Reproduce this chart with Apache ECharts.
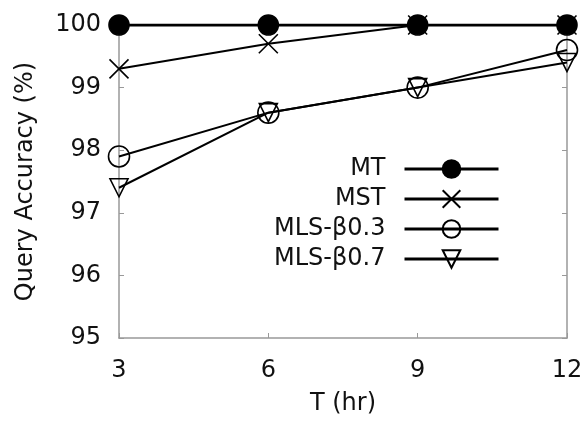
<!DOCTYPE html>
<html><head><meta charset="utf-8">
<script src="https://cdn.jsdelivr.net/npm/echarts@6/dist/echarts.min.js"></script>
<style>html,body{margin:0;padding:0;background:#fff}#c{width:588px;height:421px}</style>
</head><body><div id="c"></div>
<script>
const tValues = [3, 6, 9, 12];
const mt = [100, 100, 100, 100];
const mst = [99.3, 99.7, 100, 100];
const mls03 = [97.9, 98.6, 99.0, 99.6];
const mls07 = [97.4, 98.6, 99.0, 99.4];
const seriesNames = ['MT', 'MST', 'MLS-β0.3', 'MLS-β0.7'];

const FONT = 'DejaVu Sans, sans-serif';
const AX = '#999';
const TXT = '#111';
const FS = 24;
const crossPath = 'path://M0,0L10,10M10,0L0,10';

function pts(arr) { return tValues.map((t, i) => [t, arr[i]]); }

function mk(name, data, symbol, size, fill, rotate, lw) {
  return {
    name, type: 'line', data: pts(data), symbol, symbolSize: size,
    symbolRotate: rotate || 0, showAllSymbol: true,
    lineStyle: { color: '#000', width: lw || 2 },
    itemStyle: { color: fill, borderColor: '#000', borderWidth: 1.6 },
    emphasis: { disabled: true }, z: 3
  };
}

const chart = echarts.init(document.getElementById('c'), null, { renderer: 'canvas' });
chart.setOption({
  animation: false,
  grid: { left: 119, right: 21, top: 25, bottom: 77 },
  legend: {
    orient: 'vertical', align: 'right', right: 88, top: 156, padding: 0,
    itemWidth: 94, itemHeight: 22, itemGap: 4,
    lineStyle: { width: 3 },
    textStyle: { fontFamily: FONT, fontSize: FS, color: TXT, lineHeight: 26, padding: [0, 14, 0, 0] },
    data: seriesNames
  },
  xAxis: [{
    type: 'value', min: 3, max: 12, interval: 3,
    name: 'T (hr)', nameLocation: 'middle', nameGap: 54,
    nameTextStyle: { fontFamily: FONT, fontSize: FS, color: TXT },
    axisLine: { lineStyle: { color: AX, width: 1.5 } },
    axisTick: { inside: true, length: 5, lineStyle: { color: AX } },
    axisLabel: { fontFamily: FONT, fontSize: FS, color: TXT, margin: 21 },
    splitLine: { show: false }
  }, {
    type: 'value', min: 3, max: 12, interval: 3, position: 'top',
    axisLine: { lineStyle: { color: AX, width: 1.5 } },
    axisTick: { inside: true, length: 5, lineStyle: { color: AX } },
    axisLabel: { show: false }, splitLine: { show: false }
  }],
  yAxis: [{
    type: 'value', min: 95, max: 100, interval: 1,
    name: 'Query Accuracy (%)', nameLocation: 'middle', nameGap: 81,
    nameTextStyle: { fontFamily: FONT, fontSize: FS, color: TXT },
    axisLine: { show: true, lineStyle: { color: AX, width: 1.5 } },
    axisTick: { show: true, inside: true, length: 5, lineStyle: { color: AX } },
    axisLabel: { fontFamily: FONT, fontSize: FS, color: TXT, margin: 18 },
    splitLine: { show: false }
  }, {
    type: 'value', min: 95, max: 100, interval: 1, position: 'right',
    axisLine: { show: true, lineStyle: { color: AX, width: 1.5 } },
    axisTick: { show: true, inside: true, length: 5, lineStyle: { color: AX } },
    axisLabel: { show: false }, splitLine: { show: false }
  }],
  series: [
    mk(seriesNames[0], mt, 'circle', 20, '#000', 0, 3),
    mk(seriesNames[1], mst, crossPath, 19, 'transparent'),
    mk(seriesNames[2], mls03, 'circle', 21, 'transparent'),
    mk(seriesNames[3], mls07, 'triangle', 18, 'transparent', 180)
  ]
});
</script></body></html>
